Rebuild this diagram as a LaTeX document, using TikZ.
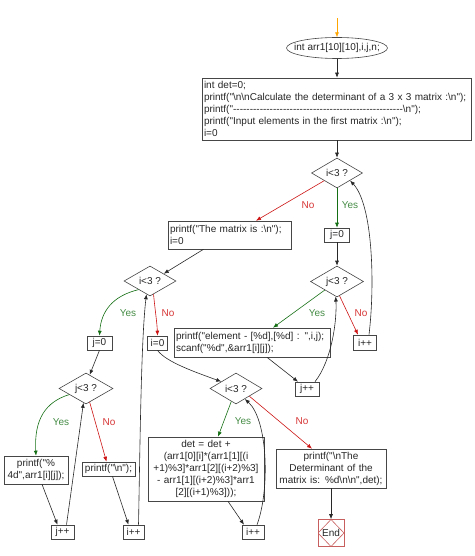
\documentclass[tikz,border=0pt]{standalone}
\usepackage{fontspec}
\newfontfamily\cf{Liberation Sans}
\usetikzlibrary{shapes.geometric,arrows.meta}
\definecolor{lin}{RGB}{40,40,40}
\definecolor{bord}{RGB}{70,70,70}
\definecolor{ygreen}{RGB}{20,110,20}
\definecolor{nred}{RGB}{205,20,20}
\definecolor{ylabc}{RGB}{70,140,70}
\definecolor{nlabc}{RGB}{215,55,55}
\definecolor{endred}{RGB}{200,95,95}
\definecolor{startor}{RGB}{255,165,0}
\newcommand\bsl{\textbackslash}
\begin{document}
\begin{tikzpicture}[x=1pt,y=-1pt,
  every node/.style={font=\cf\fontsize{10}{12}\selectfont, text=black!85},
  box/.style={draw=bord, line width=0.6pt, rectangle, inner sep=2pt, align=center},
  lbox/.style={box, align=left},
  dia/.style={draw=bord, line width=0.6pt, diamond, aspect=1.7, inner sep=0pt},
  arr/.style={draw=lin, line width=0.6pt, -{Latex[length=5pt,width=4pt]}},
  yarr/.style={arr, draw=ygreen},
  narr/.style={arr, draw=nred},
  oarr/.style={arr, draw=startor},
  ylab/.style={text=ylabc},
  nlab/.style={text=nlabc}]
\useasboundingbox (0,0) rectangle (474,556);

% nodes
\node[inner sep=0pt, minimum width=101pt, minimum height=21pt] (ell) at (337,48) {int arr1[10][10],i,j,n;};
\draw[bord, line width=0.6pt] (ell.center) ellipse [x radius=50.5pt, y radius=10.5pt];
\coordinate (st) at (337,18);

\node[lbox, text width=265pt, minimum height=62pt] (big) at (336.5,109)
 {int det=0;\\
  printf("\bsl{}n\bsl{}nCalculate the determinant of a 3 x 3 matrix :\bsl{}n");\\
  printf("---------------------------------------------------\bsl{}n");\\
  printf("Input elements in the first matrix :\bsl{}n");\\
  i=0};

\node[dia, minimum width=51pt, minimum height=30pt] (d1) at (337,173) {i<3 ?};
\node[lbox, text width=119pt, minimum height=28pt] (mbox) at (229.5,235) {printf("The matrix is :\bsl{}n");\\ i=0};
\node[box, minimum width=25pt, minimum height=14pt, inner sep=1pt] (j0a) at (337,235) {j=0};
\node[dia, minimum width=53pt, minimum height=31pt] (d2) at (337,281.5) {j<3 ?};
\node[lbox, text width=152pt, minimum height=29pt] (ebox) at (252,342.5) {printf("element - [\%d],[\%d] : ",i,j);\\ scanf("\%d",\&arr1[i][j]);};
\node[box, minimum width=23pt, minimum height=15pt, inner sep=1pt] (ipp1) at (365,342.5) {i++};

\node[dia, minimum width=52pt, minimum height=30pt] (d3) at (150,281) {i<3 ?};
\node[box, minimum width=25pt, minimum height=14pt, inner sep=1pt] (j0b) at (99.5,343) {j=0};
\node[box, minimum width=20pt, minimum height=14pt, inner sep=1pt] (i0) at (157.5,343) {i=0};
\node[box, minimum width=24pt, minimum height=14pt, inner sep=1pt] (jpp2) at (307,389) {j++};

\node[dia, minimum width=54pt, minimum height=31pt] (d4) at (86,388.5) {j<3 ?};
\node[dia, minimum width=52pt, minimum height=31pt] (d5) at (236,388.5) {i<3 ?};

\node[box, text width=60pt, minimum height=28pt] (pfp) at (36,470) {printf("\%\\ 4d",arr1[i][j]);};
\node[box, minimum width=53pt, minimum height=14pt, inner sep=1pt] (pfn) at (108.5,469) {printf("\bsl{}n");};
\node[box, minimum width=23pt, minimum height=14pt, inner sep=1pt] (jpp1) at (62.5,532) {j++};
\node[box, minimum width=21pt, minimum height=14pt, inner sep=1pt] (ipp2) at (133.5,532) {i++};

\node[box, text width=112pt, minimum height=64pt] (det) at (206,469)
 {det = det +\\ (arr1[0][i]*(arr1[1][(i\\ +1)\%3]*arr1[2][(i+2)\%3]\\ - arr1[1][(i+2)\%3]*arr1\\{}[2][(i+1)\%3]));};
\node[box, text width=106pt, minimum height=39pt] (dtm) at (331,468.5)
 {printf("\bsl{}nThe\\ Determinant of the\\ matrix is: \%d\bsl{}n\bsl{}n",det);};
\node[box, minimum width=22pt, minimum height=14pt, inner sep=1pt] (ipp3) at (253,532) {i++};
\node[draw=endred, line width=0.6pt, minimum width=26pt, minimum height=27pt, inner sep=0pt,
  path picture={\draw[endred, line width=0.6pt] (path picture bounding box.north) -- (path picture bounding box.east) -- (path picture bounding box.south) -- (path picture bounding box.west) -- cycle;}]
  (end) at (331,533) {End};

% connectors
\draw[oarr] (st) -- (ell.north);
\draw[arr] (ell.south) -- (ell.south |- big.north);
\draw[arr] (big.south -| d1.north) -- (d1.north);
\draw[yarr] (d1.south) -- (j0a.north);
\draw[narr] (d1.211) -- ([xshift=26.5pt]mbox.north);
\draw[arr] (j0a.south) -- (d2.north);
\draw[yarr] (d2.215) -- ([xshift=21pt]ebox.north);
\draw[narr] (d2.-80) -- ([xshift=-7pt]ipp1.north);
\draw[arr] ([xshift=4pt]ipp1.north) .. controls (375,285) and (373,205) .. (d1.-30);
\draw[arr] ([xshift=15pt]ebox.south) -- ([xshift=-9pt]jpp2.north);
\draw[arr] ([xshift=8pt]jpp2.north) .. controls (332,360) and (337,320) .. (d2.-95);
\draw[arr] ([xshift=-26pt]mbox.south) -- (d3.28);
\draw[yarr] (d3.217) .. controls (112,296) and (101,312) .. (j0b.north);
\draw[narr] (d3.-75) .. controls (155,310) and (157,322) .. (i0.north);
\draw[arr] (j0b.south) -- (d4.75);
\draw[yarr] (d4.200) .. controls (45,402) and (34,420) .. (pfp.north);
\draw[narr] (d4.-75) -- ([xshift=-2pt]pfn.north);
\draw[arr] ([xshift=6pt]pfp.south) -- ([xshift=-5pt]jpp1.north);
\draw[arr] ([xshift=4pt]jpp1.north) -- (d4.-100);
\draw[arr] ([xshift=4pt]pfn.south) -- ([xshift=-5pt]ipp2.north);
\draw[arr] ([xshift=5pt]ipp2.north) .. controls (140,450) and (141,340) .. (d3.-105);
\draw[arr] (i0.south) .. controls (166,362) and (195,372) .. (d5.155);
\draw[yarr] (d5.-110) -- ([xshift=12pt]det.north);
\draw[narr] (d5.-30) -- ([xshift=-19pt]dtm.north);
\draw[arr] ([xshift=22pt]det.south) -- ([xshift=-9pt]ipp3.north);
\draw[arr] ([xshift=4pt]ipp3.north) .. controls (270,490) and (268,420) .. (d5.-50);
\draw[arr] (dtm.south) -- (end.north);

% labels
\node[ylab] (l1y) at (350,205) {Yes};
\node[nlab] (l1n) at (308,205) {No};
\node[ylab] (l2y) at (317,313) {Yes};
\node[nlab] (l2n) at (361,313) {No};
\node[ylab] (l3y) at (128,313) {Yes};
\node[nlab] (l3n) at (168,313) {No};
\node[ylab] (l4y) at (61,422) {Yes};
\node[nlab] (l4n) at (109,422) {No};
\node[ylab] (l5y) at (243,421) {Yes};
\node[nlab] (l5n) at (302,421) {No};
\end{tikzpicture}
\end{document}
